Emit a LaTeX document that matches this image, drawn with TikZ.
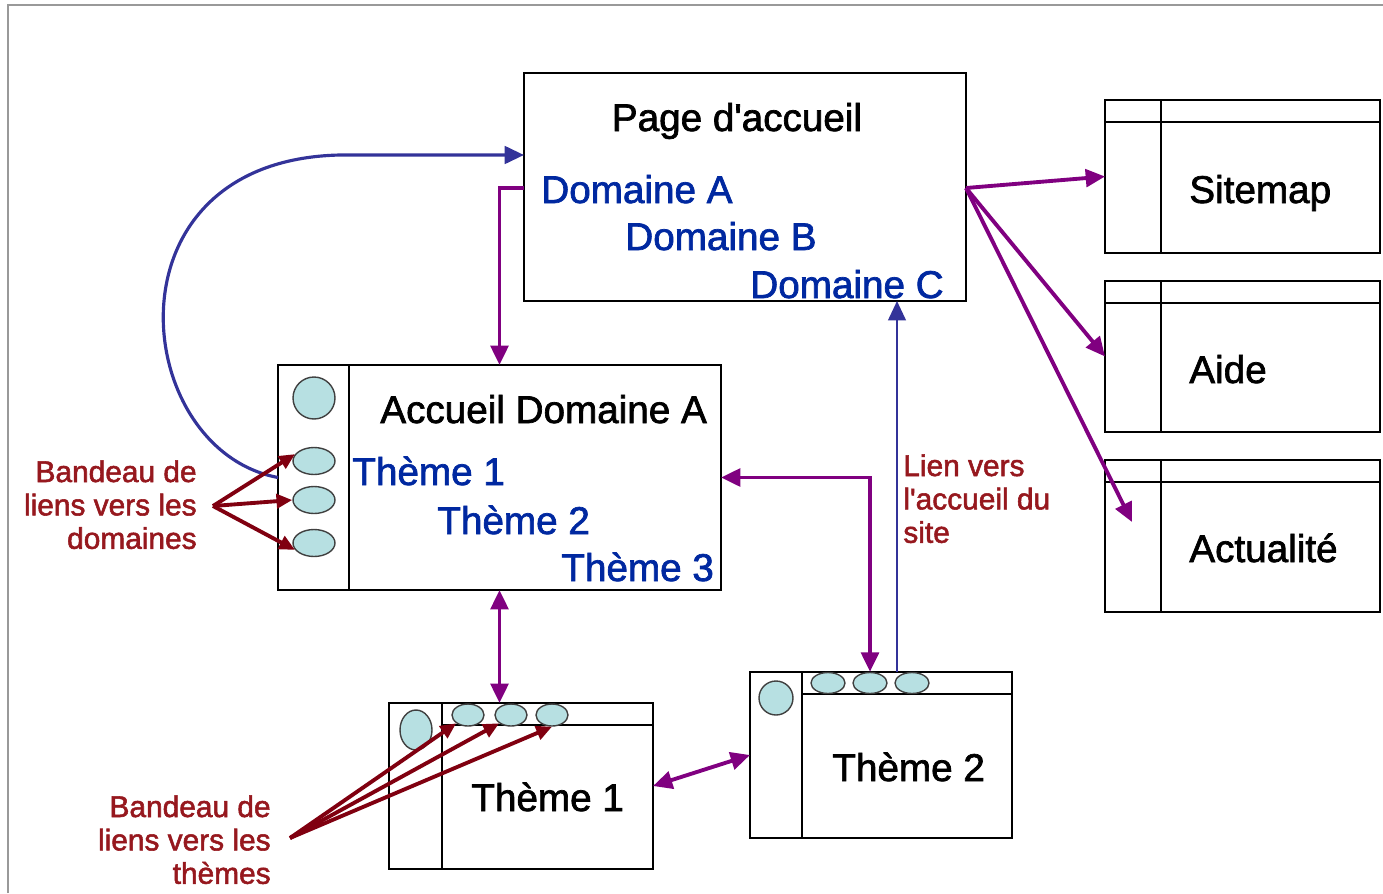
\documentclass[tikz,border=0pt]{standalone}
\usepackage{fontspec}
\setmainfont{Liberation Sans}[UprightFeatures={FakeBold=1.8}]
\usepackage{xcolor}
\usetikzlibrary{arrows.meta,positioning,shapes.geometric}

\definecolor{linkblue}{RGB}{51,51,153}
\definecolor{textblue}{RGB}{0,40,160}
\definecolor{linkpurple}{RGB}{128,0,128}
\definecolor{bandred}{RGB}{128,0,16}
\definecolor{notered}{RGB}{150,24,30}
\definecolor{bullet}{RGB}{183,224,226}

\begin{document}
\begin{tikzpicture}[x=0.02cm, y=-0.02cm,
  pagebox/.style={draw, line width=1.2pt, inner sep=0pt, outer sep=0pt},
  dot/.style={ellipse, draw=black!75, fill=bullet, line width=0.8pt, inner sep=0pt},
  bigtext/.style={font=\fontsize{22}{26}\selectfont, inner sep=0pt},
  linktext/.style={bigtext, text=textblue},
  notetext/.style={font=\fontsize{17}{19}\selectfont, text=notered, inner sep=0pt},
  purplelink/.style={draw=linkpurple, line width=2.2pt, -{Triangle[length=11pt,width=10pt]}},
  purpleboth/.style={draw=linkpurple, line width=2.2pt, {Triangle[length=11pt,width=10pt]}-{Triangle[length=11pt,width=10pt]}},
  bluelink/.style={draw=linkblue, -{Triangle[length=11pt,width=10pt]}},
  bandlink/.style={draw=bandred, line width=2.2pt, -{Triangle[length=9pt,width=8pt]}}]
\useasboundingbox (0,0) rectangle (1383,893);
\draw[black!40, line width=1pt] (8,893) -- (8,5) -- (1383,5);

% page d'accueil
\node[pagebox, minimum width=8.84cm, minimum height=4.56cm] (page) at (745,187) {};
\node[bigtext, anchor=base] (pagetitle) at (737,131) {Page d\textquotesingle accueil};
\node[linktext, anchor=base west] (domA) at (541,203) {Domaine A};
\node[linktext, anchor=base west] (domB) at (625,250) {Domaine B};
\node[linktext, anchor=base west] (domC) at (750,298) {Domaine C};

% pages annexes
\node[pagebox, minimum width=5.5cm, minimum height=3.06cm] (sitemap) at (1242.5,176.5) {};
\node[pagebox, minimum width=5.5cm, minimum height=3.02cm] (aide) at (1242.5,356.5) {};
\node[pagebox, minimum width=5.5cm, minimum height=3.04cm] (actu) at (1242.5,536) {};
\foreach \p in {sitemap,aide,actu} {
  \draw[line width=1.2pt] ([xshift=1.12cm]\p.north west) -- ([xshift=1.12cm]\p.south west);
  \draw[line width=1.2pt] ([yshift=-0.44cm]\p.north west) -- ([yshift=-0.44cm]\p.north east);
}
\node[bigtext, anchor=base west] (sitemaptext) at (1189,203) {Sitemap};
\node[bigtext, anchor=base west] (aidetext) at (1189,383) {Aide};
\node[bigtext, anchor=base west] (actutext) at (1189,562) {Actualité};

% accueil domaine A
\node[pagebox, minimum width=8.86cm, minimum height=4.5cm] (accA) at (499.5,477.5) {};
\draw[line width=1.2pt] ([xshift=1.42cm]accA.north west) -- ([xshift=1.42cm]accA.south west);
\node[dot, minimum width=0.84cm, minimum height=0.84cm] (accdot) at (314,398) {};
\node[dot, minimum width=0.84cm, minimum height=0.54cm] (d1) at (314,461) {};
\node[dot, minimum width=0.84cm, minimum height=0.54cm] (d2) at (314,500) {};
\node[dot, minimum width=0.84cm, minimum height=0.54cm] (d3) at (314,543) {};
\node[bigtext, anchor=base west] (acctitle) at (380,423) {Accueil Domaine A};
\node[linktext, anchor=base west] (thA) at (352,485) {Thème 1};
\node[linktext, anchor=base west] (thB) at (437,534) {Thème 2};
\node[linktext, anchor=base west] (thC) at (561,581) {Thème 3};

% theme 1
\node[pagebox, minimum width=5.28cm, minimum height=3.32cm] (th1) at (521,786) {};
\draw[line width=1.2pt] ([xshift=1.06cm]th1.north west) -- ([xshift=1.06cm]th1.south west);
\draw[line width=1.2pt] ([xshift=1.06cm,yshift=-0.44cm]th1.north west) -- ([yshift=-0.44cm]th1.north east);
\node[dot, minimum width=0.64cm, minimum height=0.8cm] (th1dot) at (416,730) {};
\node[dot, minimum width=0.64cm, minimum height=0.44cm] (t1a) at (468,715) {};
\node[dot, minimum width=0.64cm, minimum height=0.44cm] (t1b) at (511,715) {};
\node[dot, minimum width=0.64cm, minimum height=0.44cm] (t1c) at (552,715) {};
\node[bigtext, anchor=base west] (th1text) at (471,811) {Thème 1};

% theme 2
\node[pagebox, minimum width=5.24cm, minimum height=3.32cm] (th2) at (881,755) {};
\draw[line width=1.2pt] ([xshift=1.04cm]th2.north west) -- ([xshift=1.04cm]th2.south west);
\draw[line width=1.2pt] ([xshift=1.04cm,yshift=-0.44cm]th2.north west) -- ([yshift=-0.44cm]th2.north east);
\node[dot, minimum width=0.68cm, minimum height=0.68cm] (th2dot) at (776,698) {};
\node[dot, minimum width=0.68cm, minimum height=0.42cm] (t2a) at (828,683) {};
\node[dot, minimum width=0.68cm, minimum height=0.42cm] (t2b) at (870,683) {};
\node[dot, minimum width=0.68cm, minimum height=0.42cm] (t2c) at (912,683) {};
\node[bigtext, anchor=base west] (th2text) at (832,781) {Thème 2};

% notes
\node[notetext, anchor=north east, align=right] (notedom) at (197,460) {Bandeau de\\liens vers les\\domaines};
\node[notetext, anchor=north east, align=right] (notethm) at (271,795) {Bandeau de\\liens vers les\\thèmes};
\node[notetext, anchor=north west, align=left] (notehome) at (903,454) {Lien vers\\l\textquotesingle accueil du\\site};

% liens
\coordinate (pgin) at (524,155);
\coordinate (pgout) at (524,188);
\coordinate (pgright) at (966,188);
\coordinate (actuin) at (1132,522);
\coordinate (homeup) at (897,672);
\coordinate (domfan) at (213,506);
\coordinate (thmfan) at (290,838);

\draw[bluelink, line width=1.8pt] (accA.west) .. controls (130,450) and (100,160) .. (340,155) -- (pgin);
\draw[bluelink, line width=1.3pt] (homeup) -- (homeup |- page.south);
\draw[purplelink] (pgout) -- (pgout -| accA.north) -- (accA.north);
\draw[purplelink] (pgright) -- (sitemap.west);
\draw[purplelink] (pgright) -- (aide.west);
\draw[purplelink] (pgright) -- (actuin);
\draw[purpleboth] (accA.south) -- (accA.south |- th1.north);
\draw[purpleboth] (accA.east) -| (t2b.north);
\draw[purpleboth] (th1.east) -- (th2.west);
\draw[bandlink] (domfan) -- (d1.160);
\draw[bandlink] (domfan) -- (d2.west);
\draw[bandlink] (domfan) -- (d3.200);
\draw[bandlink] (thmfan) -- (t1a.south west);
\draw[bandlink] (thmfan) -- (t1b.south west);
\draw[bandlink] (thmfan) -- (t1c.south);

\end{tikzpicture}
\end{document}
